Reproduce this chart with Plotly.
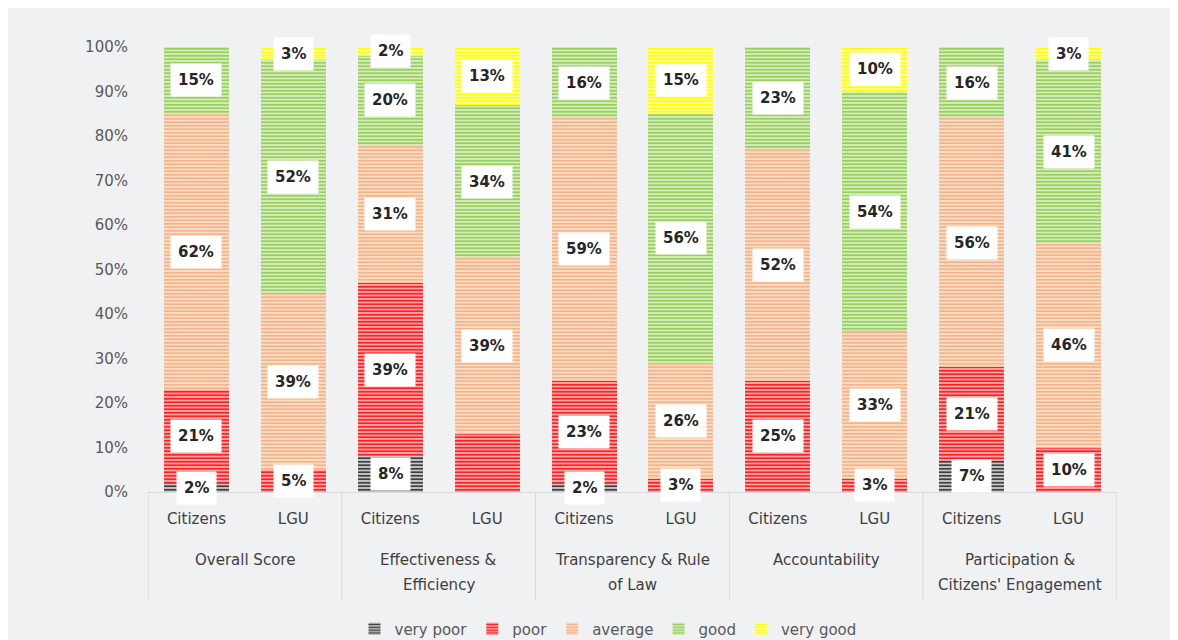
import plotly.graph_objects as go

# ---- data ----
groups = ["Overall Score", "Effectiveness &<br>Efficiency", "Transparency & Rule<br>of Law",
          "Accountability", "Participation &<br>Citizens' Engagement"]
respondents = ["Citizens", "LGU"]

levels = ["very poor", "poor", "average", "good", "very good"]

# values per bar, order: Overall C, Overall L, Eff C, Eff L, Transp C, Transp L, Acc C, Acc L, Part C, Part L
very_poor = [2, 0, 8, 0, 2, 0, 0, 0, 7, 0]
poor      = [21, 5, 39, 13, 23, 3, 25, 3, 21, 10]
average   = [62, 39, 31, 39, 59, 26, 52, 33, 56, 46]
good      = [15, 52, 20, 34, 16, 56, 23, 54, 16, 41]
very_good = [0, 3, 2, 13, 0, 15, 0, 10, 0, 3]

# labels not displayed in the original (level, bar index)
hidden_labels = [("poor", 3)]

series = {"very poor": very_poor, "poor": poor, "average": average,
          "good": good, "very good": very_good}

fg = {"very poor": "#3f3f3f", "poor": "#ff2020", "average": "#f7b285",
      "good": "#98d05a", "very good": "#ffff00"}
bg = {"very poor": "#d8d8d8", "poor": "#ffb8b8", "average": "#fde3d1",
      "good": "#dcefca", "very good": "#ffffb8"}

x_subs = [r for _ in groups for r in respondents]
n = len(x_subs)
xpos = list(range(n))

FONT = "DejaVu Sans"
TXT = "#595959"

W, H = 1178, 640
L, R, T, B = 140, 69, 39, 156
pw, ph = W - L - R, H - T - B
OFF = 8  # page body margin


def py(px):
    """reference page pixel row -> paper y"""
    return (H - B - (px - OFF)) / ph


fig = go.Figure()
for lv in levels:
    fig.add_trace(go.Bar(
        x=xpos, y=series[lv], name=lv,
        width=0.67,
        marker=dict(color=fg[lv], line=dict(width=0),
                    pattern=dict(shape="-", fgcolor=fg[lv], bgcolor=bg[lv],
                                 size=3.5, solidity=0.55, fillmode="replace")),
        hoverinfo="skip",
    ))

# data labels (white boxes) at segment centres, normalised per bar like a 100% stacked chart
for i in range(n):
    total = sum(series[lv][i] for lv in levels)
    cum = 0.0
    for lv in levels:
        v = series[lv][i]
        if v > 0 and (lv, i) not in hidden_labels:
            mid = (cum + v / 2) / total
            fig.add_annotation(x=i, y=mid, xref="x", yref="y", text=f"{v}%",
                               showarrow=False, bgcolor="white", borderpad=7,
                               font=dict(family=FONT, size=15, color="#262626", weight="bold"))
        cum += v

# group labels (one annotation per line, 25px line pitch) and dividers
per = len(respondents)
for g, name in enumerate(groups):
    for k, line in enumerate(name.split("<br>")):
        fig.add_annotation(x=g * per + (per - 1) / 2, y=py(560 + 25 * k), xref="x", yref="paper",
                           text=line, showarrow=False, yanchor="middle", align="center",
                           font=dict(family=FONT, size=15, color="#404040"))
for g in range(len(groups) + 1):
    fig.add_shape(type="line", xref="x", yref="paper",
                  x0=g * per - 0.5, x1=g * per - 0.5, y0=0, y1=py(600),
                  line=dict(color="#d9d9d9", width=1))

fig.update_layout(
    width=W, height=H,
    barmode="stack", barnorm="fraction",
    margin=dict(l=L, r=R, t=T, b=B, autoexpand=False),
    paper_bgcolor="#f0f1f3", plot_bgcolor="rgba(0,0,0,0)",
    font=dict(family=FONT, size=14, color=TXT),
    showlegend=True,
    legend=dict(orientation="h", x=(608 - OFF - L) / pw, xanchor="center",
                y=py(629), yanchor="middle",
                traceorder="normal", font=dict(family=FONT, size=15, color=TXT),
                itemwidth=30, bgcolor="rgba(0,0,0,0)"),
    yaxis=dict(range=[0, 1], dtick=0.1, tickformat=".0%", showgrid=False,
               zeroline=False, showline=False, ticks="", automargin=False,
               tickfont=dict(family=FONT, size=15, color=TXT), ticklabelstandoff=19),
    xaxis=dict(range=[-0.5, n - 0.5], tickvals=xpos, ticktext=x_subs,
               showline=True, linecolor="#d9d9d9", linewidth=1,
               ticks="", showgrid=False, zeroline=False, automargin=False,
               ticklabelstandoff=13,
               tickfont=dict(family=FONT, size=15, color="#404040")),
)

fig.write_html("out.html")
